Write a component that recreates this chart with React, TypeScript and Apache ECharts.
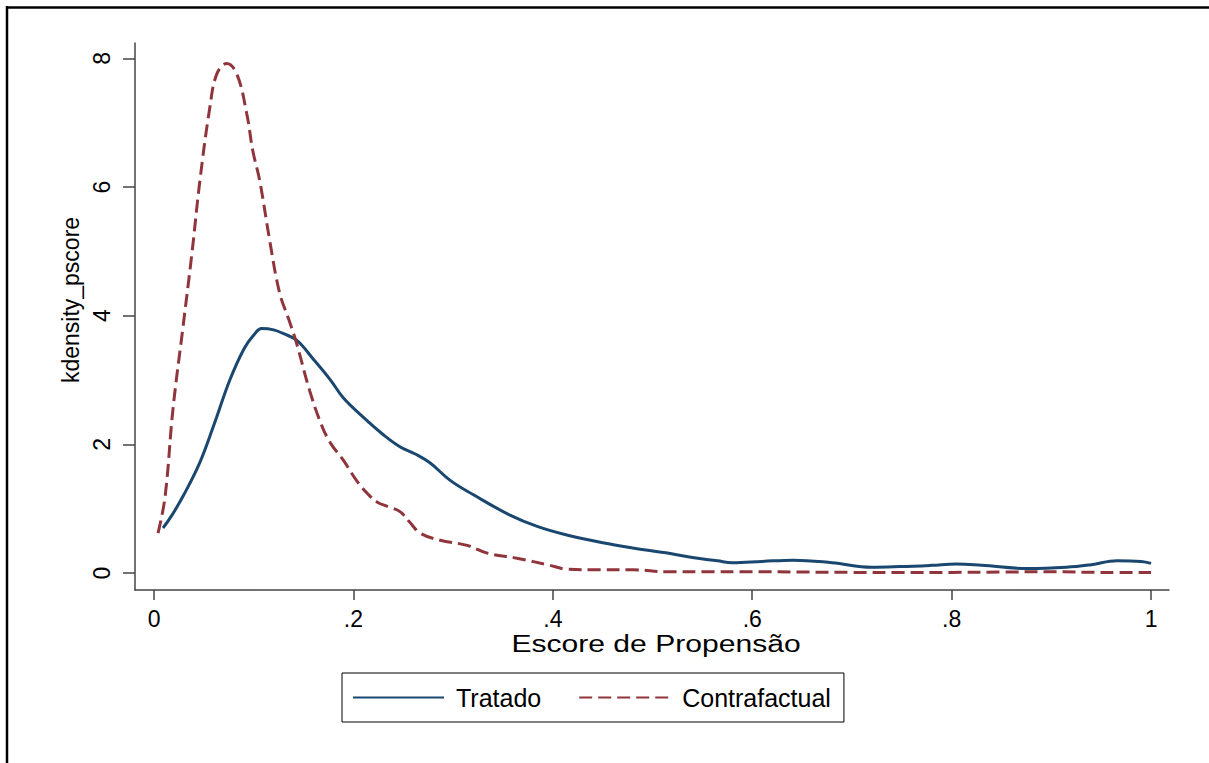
import React, { useEffect, useRef } from "react";
import * as echarts from "echarts";

const FONT = "'Liberation Sans', Arial, Helvetica, sans-serif";

const seriesNames = ["Tratado", "Contrafactual"];

const xTicks = [0, 0.2, 0.4, 0.6, 0.8, 1];
const yTicks = [0, 2, 4, 6, 8];

const xTitle = "Escore de Propensão";
const yTitle = "kdensity_pscore";

const tratado: [number, number][] = [
  [0.009, 0.7], [0.018, 0.9], [0.03, 1.22], [0.046, 1.72], [0.06, 2.3],
  [0.076, 3.0], [0.09, 3.48], [0.1, 3.7], [0.108, 3.8], [0.12, 3.78],
  [0.13, 3.72], [0.143, 3.62], [0.16, 3.32], [0.177, 3.0], [0.19, 2.72],
  [0.21, 2.42], [0.23, 2.15], [0.247, 1.96], [0.262, 1.85], [0.277, 1.71],
  [0.297, 1.44], [0.32, 1.22], [0.357, 0.9], [0.385, 0.72], [0.414, 0.59],
  [0.45, 0.47], [0.48, 0.39], [0.515, 0.31], [0.54, 0.24], [0.565, 0.19],
  [0.58, 0.16], [0.61, 0.18], [0.641, 0.2], [0.68, 0.16], [0.72, 0.09],
  [0.748, 0.1], [0.78, 0.12], [0.805, 0.14], [0.83, 0.12], [0.876, 0.07],
  [0.915, 0.09], [0.94, 0.13], [0.966, 0.19], [0.99, 0.18], [1.0, 0.15],
];

const contrafactual: [number, number][] = [
  [0.004, 0.62], [0.011, 1.18], [0.019, 2.55], [0.029, 3.82], [0.038, 4.97],
  [0.046, 6.1], [0.056, 7.24], [0.063, 7.76], [0.073, 7.92], [0.083, 7.76],
  [0.093, 7.14], [0.099, 6.57], [0.106, 6.1], [0.116, 5.17], [0.126, 4.35],
  [0.135, 3.95], [0.143, 3.57], [0.156, 2.84], [0.168, 2.3], [0.177, 2.02],
  [0.19, 1.75], [0.203, 1.44], [0.215, 1.22], [0.224, 1.1], [0.235, 1.03],
  [0.247, 0.95], [0.257, 0.78], [0.267, 0.62], [0.287, 0.51], [0.314, 0.43],
  [0.334, 0.31], [0.364, 0.23], [0.397, 0.12], [0.414, 0.06], [0.447, 0.05],
  [0.48, 0.05], [0.515, 0.02], [0.55, 0.02], [0.6, 0.02], [0.65, 0.015],
  [0.7, 0.01], [0.75, 0.01], [0.8, 0.01], [0.85, 0.015], [0.9, 0.02],
  [0.95, 0.01], [1.0, 0.01],
];

const fmtX = (v: number) => {
  if (Math.abs(v) < 1e-9) return "0";
  if (Math.abs(v - 1) < 1e-9) return "1";
  return "." + String(Math.round(v * 10));
};

export default function App() {
  const ref = useRef<HTMLDivElement>(null);
  useEffect(() => {
    if (!ref.current) return;
    const chart = echarts.init(ref.current, null, { renderer: "svg" });
    chart.setOption({
      animation: false,
      backgroundColor: "#fff",
      grid: { left: 135, top: 43, right: 40, bottom: 173 },
      xAxis: {
        type: "value",
        min: -0.0191,
        max: 1.018,
        splitLine: { show: false },
        axisLine: { onZero: false, lineStyle: { color: "#444", width: 1.5 } },
        axisTick: { customValues: xTicks, length: 10, lineStyle: { color: "#444", width: 1.5 } },
        axisLabel: {
          customValues: xTicks,
          formatter: fmtX,
          fontSize: 23,
          fontFamily: FONT,
          color: "#000",
          margin: 17,
        },
      },
      yAxis: {
        type: "value",
        min: -0.264,
        max: 8.24,
        splitLine: { show: false },
        axisLine: { onZero: false, lineStyle: { color: "#444", width: 1.5 } },
        axisTick: { customValues: yTicks, length: 12, lineStyle: { color: "#444", width: 1.5 } },
        axisLabel: {
          customValues: yTicks,
          rotate: 90,
          fontSize: 23,
          fontFamily: FONT,
          color: "#000",
          margin: 22,
        },
      },
      legend: {
        left: 342,
        top: 673,
        orient: "horizontal",
        borderColor: "#000",
        borderWidth: 1,
        padding: [12, 13, 12, 10],
        itemWidth: 91,
        itemHeight: 14,
        itemGap: 37,
        itemStyle: { opacity: 0 },
        textStyle: { fontSize: 25, fontFamily: FONT, color: "#000", padding: [0, 0, 0, 7] },
        data: seriesNames,
      },
      graphic: [
        {
          type: "line",
          shape: { x1: 6, y1: 7.5, x2: 1209, y2: 7.5 },
          style: { stroke: "#000", lineWidth: 2.5 },
        },
        {
          type: "line",
          shape: { x1: 7, y1: 6, x2: 7, y2: 763 },
          style: { stroke: "#000", lineWidth: 2.5 },
        },
        {
          type: "text",
          x: 71,
          y: 300,
          rotation: Math.PI / 2,
          style: {
            text: yTitle,
            fontSize: 23,
            fontFamily: FONT,
            fill: "#000",
            align: "center",
            verticalAlign: "middle",
          },
        },
        {
          type: "text",
          x: 656,
          y: 644,
          scaleX: 1.28,
          style: {
            text: xTitle,
            fontSize: 23.5,
            fontFamily: FONT,
            fill: "#000",
            align: "center",
            verticalAlign: "middle",
          },
        },
      ],
      series: [
        {
          name: seriesNames[0],
          type: "line",
          data: tratado,
          smooth: 0.4,
          showSymbol: false,
          symbol: "none",
          lineStyle: { color: "#1a476f", width: 3 },
          itemStyle: { color: "#1a476f" },
        },
        {
          name: seriesNames[1],
          type: "line",
          data: contrafactual,
          smooth: 0.4,
          showSymbol: false,
          symbol: "none",
          lineStyle: { color: "#90353b", width: 3, type: [13, 6] },
          itemStyle: { color: "#90353b" },
        },
      ],
    });
    return () => chart.dispose();
  }, []);
  return (
    <div
      ref={ref}
      style={{ position: "fixed", left: 0, top: 0, width: 1209, height: 763 }}
    />
  );
}
